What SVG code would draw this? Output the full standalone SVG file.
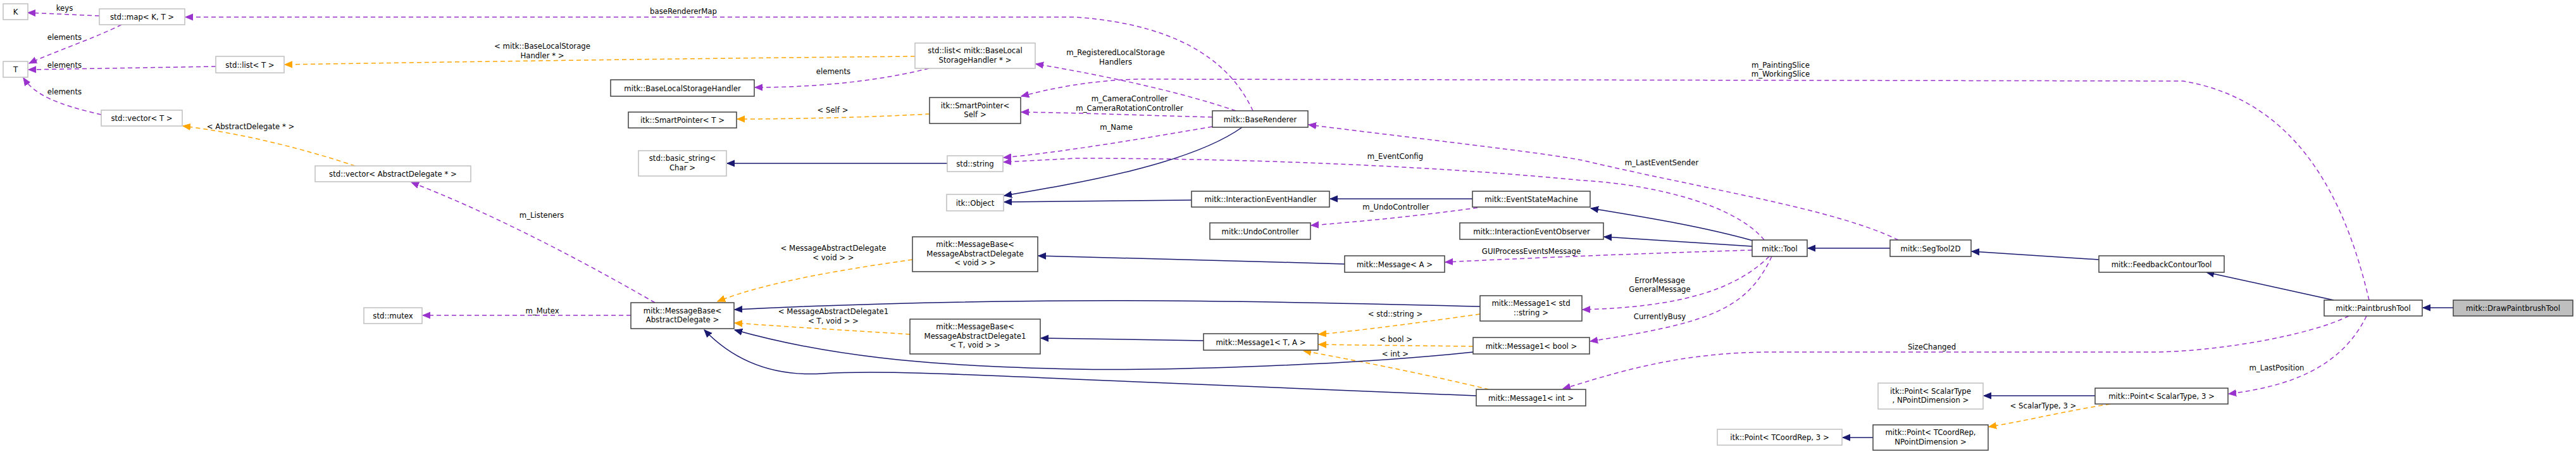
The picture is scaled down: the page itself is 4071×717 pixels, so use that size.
<svg xmlns="http://www.w3.org/2000/svg" width="4071" height="717" viewBox="0 0 4071 717">
<style>
text{font-family:"DejaVu Sans Condensed","DejaVu Sans",sans-serif;font-size:13px;fill:#000;text-anchor:middle}
.n rect{fill:#fff;stroke:#404040;stroke-width:1.5}
.g rect{fill:#fff;stroke:#bfbfbf;stroke-width:1.5}
.h rect{fill:#bfbfbf;stroke:#404040;stroke-width:1.5}
path{fill:none;stroke-width:1.5}
.p{stroke:#9a32cd;stroke-dasharray:7,5;marker-end:url(#mp)}
.o{stroke:#ffa500;stroke-dasharray:7,5;marker-end:url(#mo)}
.b{stroke:#191970;marker-end:url(#mb)}
</style>
<defs>
<marker id="mp" markerUnits="userSpaceOnUse" markerWidth="14" markerHeight="12" refX="12" refY="6" orient="auto"><path d="M0,1 L12,6 L0,11 Z" style="fill:#9a32cd;stroke:#9a32cd;stroke-width:1"/></marker>
<marker id="mo" markerUnits="userSpaceOnUse" markerWidth="14" markerHeight="12" refX="12" refY="6" orient="auto"><path d="M0,1 L12,6 L0,11 Z" style="fill:#ffa500;stroke:#ffa500;stroke-width:1"/></marker>
<marker id="mb" markerUnits="userSpaceOnUse" markerWidth="14" markerHeight="12" refX="12" refY="6" orient="auto"><path d="M0,1 L12,6 L0,11 Z" style="fill:#191970;stroke:#191970;stroke-width:1"/></marker>
</defs>
<rect width="4071" height="717" fill="#fff"/>
<g id="edges">
<path class="p" d="M157,25 L44,20"/>
<path class="p" d="M192,39 C150,60 90,80 46,100"/>
<path class="p" d="M341,105 L45,110"/>
<path class="p" d="M160,181 C90,165 55,150 37,123"/>
<path class="p" d="M1980,175 C1950,110 1880,40 1700,27 L293,27"/>
<path class="p" d="M1953,175 C1850,140 1720,115 1637,101"/>
<path class="p" d="M1916,185 C1800,182 1700,178 1614,177"/>
<path class="p" d="M3744,474 C3710,330 3640,160 3450,128 L1800,125 C1720,127 1660,140 1614,152"/>
<path class="p" d="M1916,200 C1800,220 1680,240 1586,249"/>
<path class="p" d="M2788,379 C2740,320 2600,290 2500,285 C2300,265 2000,250 1700,250 L1586,256"/>
<path class="p" d="M3000,379 C2900,330 2700,300 2500,253 C2430,240 2250,220 2068,197"/>
<path class="p" d="M2335,328 C2250,340 2150,350 2072,356"/>
<path class="p" d="M2769,395 C2600,400 2400,408 2284,414"/>
<path class="p" d="M2796,405 C2740,460 2650,485 2501,489"/>
<path class="p" d="M2800,405 C2760,490 2700,510 2513,539"/>
<path class="p" d="M3712,499 C3650,530 3500,556 3400,556 L2800,556 C2650,556 2550,590 2470,614"/>
<path class="p" d="M3740,499 C3700,580 3620,610 3522,622"/>
<path class="p" d="M1035,478 C900,400 760,330 650,288"/>
<path class="p" d="M997,498 L668,498"/>
<path class="p" d="M1468,108 C1380,130 1280,138 1193,138"/>
<path class="o" d="M1446,89 C1100,92 700,98 450,102"/>
<path class="o" d="M561,262 C480,235 380,210 289,199"/>
<path class="o" d="M1469,180 C1380,185 1260,188 1165,188"/>
<path class="o" d="M1442,410 C1300,430 1200,450 1134,476"/>
<path class="o" d="M1438,528 C1340,522 1230,515 1161,510"/>
<path class="o" d="M2339,496 C2240,510 2150,522 2084,528"/>
<path class="o" d="M2328,547 C2240,546 2150,545 2084,544"/>
<path class="o" d="M2353,615 C2250,590 2120,565 2060,554"/>
<path class="o" d="M3335,638 C3260,650 3200,665 3143,674"/>
<path class="b" d="M1497,258 L1149,258"/>
<path class="b" d="M1963,201 C1880,260 1700,290 1587,309"/>
<path class="b" d="M1883,316 L1587,319"/>
<path class="b" d="M2327,314 L2102,314"/>
<path class="b" d="M2770,380 C2680,355 2580,340 2514,329"/>
<path class="b" d="M2769,389 L2535,374"/>
<path class="b" d="M2987,392 L2857,392"/>
<path class="b" d="M3317,410 L3116,397"/>
<path class="b" d="M3688,474 L3487,430"/>
<path class="b" d="M3877,486 L3829,486"/>
<path class="b" d="M2125,417 C1950,412 1750,406 1641,404"/>
<path class="b" d="M2339,484 C2100,478 1850,474 1700,475 C1500,476 1300,482 1161,489"/>
<path class="b" d="M1902,538 L1645,534"/>
<path class="b" d="M2328,556 C2100,580 1800,585 1700,583 C1450,578 1300,560 1161,521"/>
<path class="b" d="M2333,625 L1700,599 C1500,590 1380,585 1300,590 C1220,595 1160,570 1113,521"/>
<path class="b" d="M3311,625 L3135,625"/>
<path class="b" d="M2960,691 L2912,691"/>
<text x="102" y="17">keys</text>
<text x="102" y="63">elements</text>
<text x="102" y="107">elements</text>
<text x="102" y="149">elements</text>
<text x="396" y="204">&lt; AbstractDelegate * &gt;</text>
<text x="857" y="77">&lt; mitk::BaseLocalStorage</text>
<text x="857" y="92">Handler * &gt;</text>
<text x="856" y="344">m_Listeners</text>
<text x="857" y="495">m_Mutex</text>
<text x="1080" y="22">baseRendererMap</text>
<text x="1317" y="117">elements</text>
<text x="1316" y="178">&lt; Self &gt;</text>
<text x="1317" y="396">&lt; MessageAbstractDelegate</text>
<text x="1317" y="411">&lt; void &gt; &gt;</text>
<text x="1317" y="496">&lt; MessageAbstractDelegate1</text>
<text x="1317" y="511">&lt; T, void &gt; &gt;</text>
<text x="1763" y="87">m_RegisteredLocalStorage</text>
<text x="1763" y="102">Handlers</text>
<text x="1785" y="160">m_CameraController</text>
<text x="1785" y="175">m_CameraRotationController</text>
<text x="1764" y="205">m_Name</text>
<text x="2205" y="251">m_EventConfig</text>
<text x="2206" y="331">m_UndoController</text>
<text x="2420" y="401">GUIProcessEventsMessage</text>
<text x="2205" y="500">&lt; std::string &gt;</text>
<text x="2206" y="540">&lt; bool &gt;</text>
<text x="2205" y="563">&lt; int &gt;</text>
<text x="2814" y="107">m_PaintingSlice</text>
<text x="2814" y="121">m_WorkingSlice</text>
<text x="2626" y="261">m_LastEventSender</text>
<text x="2623" y="447">ErrorMessage</text>
<text x="2623" y="461">GeneralMessage</text>
<text x="2623" y="504">CurrentlyBusy</text>
<text x="3053" y="552">SizeChanged</text>
<text x="3229" y="645">&lt; ScalarType, 3 &gt;</text>
<text x="3598" y="585">m_LastPosition</text>
</g>
<g id="K" class="g"><rect x="5" y="6" width="39" height="25"/><text x="24.5" y="23">K</text></g>
<g id="map" class="g"><rect x="157" y="14" width="135" height="25"/><text x="224.5" y="31">std::map&lt; K, T &gt;</text></g>
<g id="T" class="g"><rect x="5" y="97" width="39" height="25"/><text x="24.5" y="114">T</text></g>
<g id="listT" class="g"><rect x="341" y="89" width="108" height="26"/><text x="395" y="107">std::list&lt; T &gt;</text></g>
<g id="vectorT" class="g"><rect x="160" y="174" width="128" height="25"/><text x="224" y="191">std::vector&lt; T &gt;</text></g>
<g id="vectorAD" class="g"><rect x="498" y="262" width="246" height="25"/><text x="621" y="279">std::vector&lt; AbstractDelegate * &gt;</text></g>
<g id="mutex" class="g"><rect x="575" y="486" width="92" height="25"/><text x="621" y="503">std::mutex</text></g>
<g id="listBLSH" class="g"><rect x="1446" y="68" width="190" height="40"/><text x="1541" y="84">std::list&lt; mitk::BaseLocal</text><text x="1541" y="99">StorageHandler * &gt;</text></g>
<g id="BLSH" class="n"><rect x="965" y="126" width="227" height="26"/><text x="1078.5" y="144">mitk::BaseLocalStorageHandler</text></g>
<g id="SPT" class="n"><rect x="993" y="177" width="171" height="25"/><text x="1078.5" y="194">itk::SmartPointer&lt; T &gt;</text></g>
<g id="SPSelf" class="n"><rect x="1469" y="154" width="144" height="41"/><text x="1541" y="171">itk::SmartPointer&lt;</text><text x="1541" y="185">Self &gt;</text></g>
<g id="basic_string" class="g"><rect x="1009" y="238" width="139" height="40"/><text x="1078.5" y="254">std::basic_string&lt;</text><text x="1078.5" y="269">Char &gt;</text></g>
<g id="string" class="g"><rect x="1497" y="246" width="88" height="25"/><text x="1541" y="263">std::string</text></g>
<g id="itkObject" class="g"><rect x="1496" y="307" width="90" height="26"/><text x="1541" y="325">itk::Object</text></g>
<g id="MBAD" class="n"><rect x="997" y="478" width="163" height="41"/><text x="1078.5" y="495">mitk::MessageBase&lt;</text><text x="1078.5" y="509">AbstractDelegate &gt;</text></g>
<g id="MBMAD" class="n"><rect x="1442" y="374" width="198" height="55"/><text x="1541" y="390">mitk::MessageBase&lt;</text><text x="1541" y="405">MessageAbstractDelegate</text><text x="1541" y="419">&lt; void &gt; &gt;</text></g>
<g id="MBMAD1" class="n"><rect x="1438" y="504" width="206" height="55"/><text x="1541" y="520">mitk::MessageBase&lt;</text><text x="1541" y="535">MessageAbstractDelegate1</text><text x="1541" y="549">&lt; T, void &gt; &gt;</text></g>
<g id="BaseRenderer" class="n"><rect x="1916" y="175" width="151" height="26"/><text x="1991.5" y="193">mitk::BaseRenderer</text></g>
<g id="IEH" class="n"><rect x="1883" y="302" width="218" height="25"/><text x="1992" y="319">mitk::InteractionEventHandler</text></g>
<g id="ESM" class="n"><rect x="2327" y="302" width="186" height="25"/><text x="2420" y="319">mitk::EventStateMachine</text></g>
<g id="Undo" class="n"><rect x="1912" y="352" width="159" height="26"/><text x="1991.5" y="370">mitk::UndoController</text></g>
<g id="IEO" class="n"><rect x="2307" y="352" width="227" height="26"/><text x="2420.5" y="370">mitk::InteractionEventObserver</text></g>
<g id="MsgA" class="n"><rect x="2125" y="404" width="158" height="26"/><text x="2204" y="422">mitk::Message&lt; A &gt;</text></g>
<g id="Msg1String" class="n"><rect x="2339" y="467" width="161" height="40"/><text x="2419.5" y="483">mitk::Message1&lt; std</text><text x="2419.5" y="498">::string &gt;</text></g>
<g id="Msg1TA" class="n"><rect x="1902" y="527" width="181" height="26"/><text x="1992.5" y="545">mitk::Message1&lt; T, A &gt;</text></g>
<g id="Msg1Bool" class="n"><rect x="2328" y="533" width="184" height="26"/><text x="2420" y="551">mitk::Message1&lt; bool &gt;</text></g>
<g id="Msg1Int" class="n"><rect x="2333" y="615" width="173" height="26"/><text x="2419.5" y="633">mitk::Message1&lt; int &gt;</text></g>
<g id="Tool" class="n"><rect x="2769" y="379" width="87" height="26"/><text x="2812.5" y="397">mitk::Tool</text></g>
<g id="SegTool2D" class="n"><rect x="2987" y="379" width="128" height="26"/><text x="3051" y="397">mitk::SegTool2D</text></g>
<g id="itkPointST" class="g"><rect x="2968" y="605" width="166" height="41"/><text x="3051" y="622">itk::Point&lt; ScalarType</text><text x="3051" y="636">, NPointDimension &gt;</text></g>
<g id="itkPointTC" class="g"><rect x="2714" y="678" width="197" height="25"/><text x="2812.5" y="695">itk::Point&lt; TCoordRep, 3 &gt;</text></g>
<g id="mitkPointTC" class="n"><rect x="2960" y="671" width="182" height="40"/><text x="3051" y="687">mitk::Point&lt; TCoordRep,</text><text x="3051" y="702">NPointDimension &gt;</text></g>
<g id="FCT" class="n"><rect x="3317" y="404" width="198" height="26"/><text x="3416" y="422">mitk::FeedbackContourTool</text></g>
<g id="PBT" class="n"><rect x="3673" y="474" width="155" height="25"/><text x="3750.5" y="491">mitk::PaintbrushTool</text></g>
<g id="DPBT" class="h"><rect x="3877" y="474" width="189" height="25"/><text x="3971.5" y="491">mitk::DrawPaintbrushTool</text></g>
<g id="mitkPointST" class="n"><rect x="3311" y="613" width="210" height="25"/><text x="3416" y="630">mitk::Point&lt; ScalarType, 3 &gt;</text></g>
</svg>
